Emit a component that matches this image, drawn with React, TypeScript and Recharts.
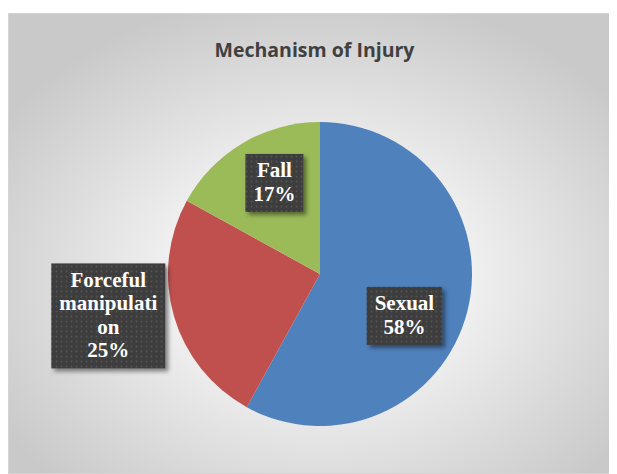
import { PieChart, Pie, Cell } from 'recharts';

const categories = ['Sexual', 'Forceful manipulation', 'Fall'];
const shares = [58, 25, 17];
const sliceColors = ['#4f81bd', '#c0504d', '#9bbb59'];

const data = categories.map((name, i) => ({ name, value: shares[i] }));

const RADIAN = Math.PI / 180;
const LABEL_FONT = 'bold 21px "Liberation Serif"';

// Excel "best fit" placement: small slices that can't hold the text go outside
const labelPlacement = [
  { dist: 0.62, shift: -12 },
  { dist: 1.42, shift: -5 },
  { dist: 0.67, shift: -4 },
];

let ctx: CanvasRenderingContext2D | null = null;
const measure = (s: string) => {
  if (!ctx) ctx = document.createElement('canvas').getContext('2d');
  if (!ctx) return s.length * 11;
  ctx.font = LABEL_FONT;
  return ctx.measureText(s).width;
};

const wrap = (text: string, maxChars: number) => {
  const out: string[] = [];
  text.split(' ').forEach((w) => {
    while (w.length > maxChars) {
      out.push(w.slice(0, maxChars));
      w = w.slice(maxChars);
    }
    out.push(w);
  });
  return out;
};

const renderLabel = (props: any) => {
  const { cx, cy, midAngle, outerRadius, index, name, percent } = props;
  const p = labelPlacement[index];
  const ang = (midAngle + p.shift) * RADIAN;
  const r = outerRadius * p.dist;
  const x = cx + r * Math.cos(ang);
  const y = cy - r * Math.sin(ang);
  const lines = [...wrap(name, 10), `${Math.round(percent * 100)}%`];
  const lh = 23.5;
  const w = Math.max(...lines.map(measure)) + 16;
  const h = lines.length * lh + 11;
  return (
    <g key={`lbl-${index}`}>
      <rect x={x - w / 2} y={y - h / 2} width={w} height={h} fill="url(#dots)" filter="url(#boxShadow)" />
      {lines.map((l, i) => (
        <text
          key={i}
          x={x}
          y={y - h / 2 + 5 + lh * (i + 1) - 5}
          textAnchor="middle"
          fill="#ffffff"
          style={{ font: LABEL_FONT }}
        >
          {l}
        </text>
      ))}
    </g>
  );
};

const App = () => {
  return (
    <div
      style={{
        marginTop: 5,
        width: 609,
        height: 461,
        boxSizing: 'border-box',
        border: '1px solid #d4d4d4',
        background: 'radial-gradient(ellipse 62% 62% at 51% 57%, #ffffff 0%, #f3f3f3 35%, #d9d9d9 75%, #c9c9c9 100%)',
        position: 'relative',
      }}
    >
      <div
        style={{
          position: 'absolute',
          top: 22,
          left: 2,
          width: '100%',
          textAlign: 'center',
          fontFamily: '"Open Sans", sans-serif',
          fontWeight: 'bold',
          fontSize: 19.5,
          color: '#404040',
        }}
      >
        Mechanism of Injury
      </div>
      <PieChart width={607} height={459} style={{ position: 'absolute', top: 0, left: 0 }}>
        <defs>
          <pattern id="dots" width="5" height="5" patternUnits="userSpaceOnUse">
            <rect width="5" height="5" fill="#3d3d3d" />
            <circle cx="2.5" cy="2.5" r="0.9" fill="#555555" />
          </pattern>
          <filter id="boxShadow" x="-20%" y="-20%" width="150%" height="150%">
            <feDropShadow dx="3" dy="3" stdDeviation="2" floodColor="#000" floodOpacity="0.45" />
          </filter>
        </defs>
        <Pie
          data={data}
          dataKey="value"
          nameKey="name"
          cx={306}
          cy={255}
          outerRadius={152}
          startAngle={90}
          endAngle={-270}
          stroke="none"
          labelLine={false}
          label={renderLabel}
          isAnimationActive={false}
        >
          {data.map((d, i) => (
            <Cell key={d.name} fill={sliceColors[i]} />
          ))}
        </Pie>
      </PieChart>
    </div>
  );
};

export default App;
